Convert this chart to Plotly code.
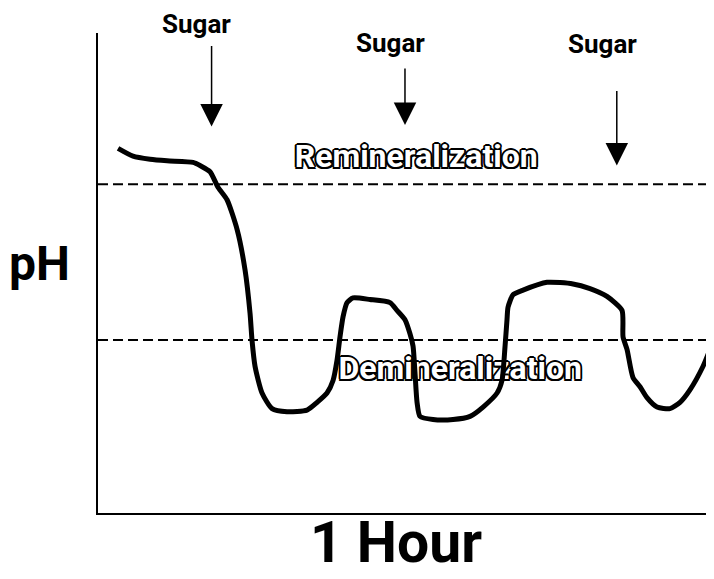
import plotly.graph_objects as go

# ---- data (time in minutes over 1 hour, plaque pH) ----
time_min = [1.76, 3.22, 4.89, 6.55, 9.09, 9.77, 10.75, 11.53, 12.41, 13.39, 14.17, 14.66, 14.85,
            15.15, 15.83, 16.81, 18.27, 20.23, 21.21, 22.18, 22.77, 23.16, 23.45, 23.75, 24.14,
            24.72, 26.38, 28.34, 29.02, 29.80, 30.29, 30.59, 30.78, 30.98, 31.27, 32.54, 34.50,
            36.16, 37.43, 38.80, 39.28, 39.58, 39.77, 39.87, 40.36, 41.34, 43.68, 46.22, 47.88,
            49.54, 51.01, 51.11, 51.50, 52.08, 52.77, 53.45, 54.43, 55.70, 56.68, 57.65, 58.92,
            59.61, 60.00]
ph_values = [6.73, 6.68, 6.66, 6.65, 6.64, 6.62, 6.58, 6.48, 6.40, 6.21, 5.95, 5.67, 5.50,
             5.33, 5.16, 5.06, 5.04, 5.05, 5.10, 5.16, 5.24, 5.37, 5.52, 5.65, 5.74,
             5.77, 5.76, 5.74, 5.69, 5.63, 5.54, 5.46, 5.29, 5.10, 5.01, 4.99, 4.99,
             5.01, 5.07, 5.16, 5.24, 5.46, 5.63, 5.71, 5.79, 5.82, 5.87, 5.86, 5.83,
             5.78, 5.69, 5.52, 5.44, 5.26, 5.20, 5.13, 5.07, 5.06, 5.10, 5.18, 5.33,
             5.44, 5.51]

remin_level = 6.5
demin_level = 5.5
zone_labels = ["Remineralization", "Demineralization"]
zone_label_time = [30.9, 35.2]
zone_label_ph = [6.66, 5.30]

sugar_times = [10.9, 29.8, 50.5]
sugar_tip_ph = [6.87, 6.88, 6.62]
sugar_label = "Sugar"

x_title = "1 Hour"
y_title = "pH"

# ---- layout geometry (page body has an 8px margin) ----
OFF = 8
W, H = 714 - OFF, 579 - OFF
L, R, T, B = 98 - OFF, 0, 33 - OFF, 66
PW, PH = W - L - R, H - T - B


def px_to_paper_x(px):
    return (px - OFF - L) / PW


def py_to_paper_y(py):
    return (H - B - (py - OFF)) / PH


font_fam = "Roboto, Liberation Sans, Arial, sans-serif"
outline = ("-1.5px -1.5px 0 #000, 1.5px -1.5px 0 #000, -1.5px 1.5px 0 #000, 1.5px 1.5px 0 #000, "
           "0 -1.8px 0 #000, 0 1.8px 0 #000, -1.8px 0 0 #000, 1.8px 0 0 #000")

fig = go.Figure()

# outlined zone labels (drawn below the curve)
fig.add_trace(go.Scatter(
    x=zone_label_time, y=zone_label_ph, mode="text", text=zone_labels,
    textposition="middle center",
    textfont=dict(family=font_fam, size=32, color="white", weight="bold", shadow=outline),
    hoverinfo="skip", showlegend=False,
))

# pH curve
fig.add_trace(go.Scatter(
    x=time_min, y=ph_values, mode="lines",
    line=dict(color="black", width=5, shape="spline", smoothing=0.6),
    hoverinfo="skip", showlegend=False,
))

# threshold dashed lines
for lvl in (remin_level, demin_level):
    fig.add_shape(type="line", xref="paper", x0=0, x1=1, yref="y", y0=lvl, y1=lvl,
                  line=dict(color="black", width=2, dash="10px,5px"), layer="below")

annotations = []
# sugar arrows
arrow_lengths = [82, 58, 76]
label_px = [196, 390, 602]
label_py = [24, 43, 44]
for t, tip, alen, lx, ly in zip(sugar_times, sugar_tip_ph, arrow_lengths, label_px, label_py):
    annotations.append(dict(x=t, y=tip, xref="x", yref="y", ax=0, ay=-alen, text="",
                            showarrow=True, arrowhead=2, arrowsize=3, arrowwidth=1.5,
                            arrowcolor="black"))
    annotations.append(dict(x=px_to_paper_x(lx), y=py_to_paper_y(ly), xref="paper", yref="paper",
                            text=sugar_label, showarrow=False, xanchor="center", yanchor="middle",
                            font=dict(family=font_fam, size=26, color="black", weight="bold")))

annotations.append(dict(x=px_to_paper_x(39), y=py_to_paper_y(264), xref="paper", yref="paper",
                        text=y_title, showarrow=False, xanchor="center", yanchor="middle",
                        font=dict(family=font_fam, size=48, color="black", weight="bold")))
annotations.append(dict(x=px_to_paper_x(396), y=py_to_paper_y(578), xref="paper", yref="paper",
                        text=x_title, showarrow=False, xanchor="center", yanchor="bottom",
                        font=dict(family=font_fam, size=57, color="black", weight="bold")))

fig.update_layout(
    width=W, height=H,
    margin=dict(l=L, r=R, t=T, b=B),
    paper_bgcolor="white", plot_bgcolor="white",
    annotations=annotations,
    xaxis=dict(range=[-0.2, 60], showline=True, linecolor="black", linewidth=2,
               showgrid=False, zeroline=False, showticklabels=False, ticks=""),
    yaxis=dict(range=[4.39, 7.47], showline=True, linecolor="black", linewidth=2,
               showgrid=False, zeroline=False, showticklabels=False, ticks=""),
)

fig.write_html("out.html")
